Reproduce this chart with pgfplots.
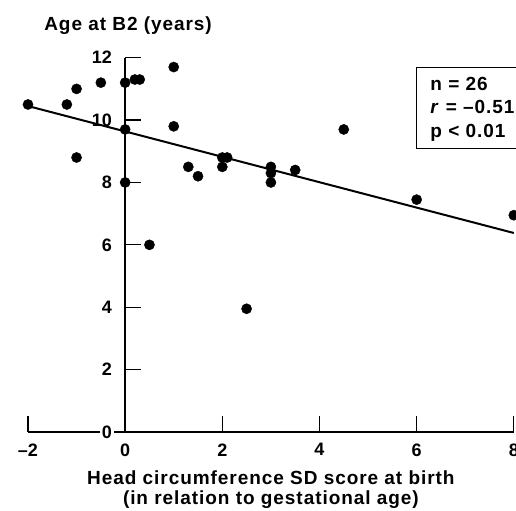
\documentclass[border=0pt]{standalone}
\usepackage{fontspec}
\setmainfont{Liberation Sans}
\newfontfamily\lbl[LetterSpace=5]{Liberation Sans}
\usepackage{pgfplots}
\pgfplotsset{compat=1.18}

\begin{document}
\begin{tikzpicture}
\begin{axis}[
    x=48.6pt, y=31.2pt,
    xmin=-2, xmax=8, ymin=0, ymax=12,
    axis lines=middle,
    axis line style={line width=1.6pt, -},
    clip=false,
    hide obscured x ticks=false,
    hide obscured y ticks=false,
    xtick={-2,0,2,4,6,8},
    ytick={0,2,4,6,8,10,12},
    xticklabels={–2,0,2,4,6,8},
    yticklabels={0,2,4,6,8,10,12},
    tick label style={font=\fontsize{18}{18}\selectfont\bfseries},
    yticklabel style={fill=white, inner sep=2pt, xshift=-3pt},
    tick align=center,
    major tick length=16pt,
    xtick style={line width=1.3pt, black, yshift=8pt},
    ytick style={line width=1.3pt, black, xshift=8pt},
    xlabel={Head circumference SD score at birth\\(in relation to gestational age)},
    xlabel style={font=\lbl\bfseries\fontsize{19}{20}\selectfont, align=center,
        at={(axis cs:3,-1.86)}, anchor=center},
    ylabel={Age at B2 (years)},
    ylabel style={font=\lbl\bfseries\fontsize{19}{20}\selectfont, rotate=0,
        at={(axis cs:0.06,13.04)}, anchor=center},
]
% individual patients
\addplot[only marks, mark=*, mark size=5.1pt, black] coordinates {
    (-2,10.5) (-1.2,10.5) (-1,11.0) (-1,8.8) (-0.5,11.2)
    (0,11.2) (0.2,11.3) (0.3,11.3) (1,11.7) (0,9.7)
    (1,9.8) (0,8.0) (0.5,6.0) (1.3,8.5) (1.5,8.2)
    (2,8.8) (2.1,8.8) (2,8.5) (2.5,3.95) (4.5,9.7)
    (3,8.5) (3,8.3) (3,8.0) (3.5,8.4) (6,7.45) (8,6.95)
};
% regression line
\addplot[line width=2pt, black] coordinates {(-2,10.45) (8,6.38)};

\draw[line width=1.2pt] (axis cs:6.0,9.09) rectangle (axis cs:8.6,11.68);
\node[anchor=west, align=left, inner sep=0pt,
      font=\lbl\bfseries\fontsize{19}{23.5}\selectfont]
    at (axis cs:6.28,10.35) {n = 26\\\textit{r} = –0.51\\p < 0.01};

\coordinate (bl) at (axis cs:-2.576,-2.53);
\coordinate (tr) at (axis cs:8.045,13.85);
\end{axis}
\pgfresetboundingbox
\useasboundingbox (bl) rectangle (tr);
\end{tikzpicture}
\end{document}
